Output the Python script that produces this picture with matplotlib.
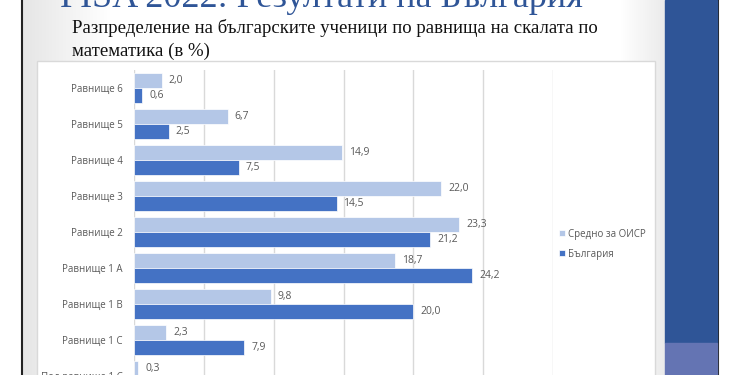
import numpy as np
import matplotlib.pyplot as plt
from matplotlib.patches import Rectangle

# Данни
categories = ['Равнище 6', 'Равнище 5', 'Равнище 4', 'Равнище 3', 'Равнище 2',
              'Равнище 1 А', 'Равнище 1 В', 'Равнище 1 С', 'Под равнище 1 С']
oecd = [2.0, 6.7, 14.9, 22.0, 23.3, 18.7, 9.8, 2.3, 0.3]
bulgaria = [0.6, 2.5, 7.5, 14.5, 21.2, 24.2, 20.0, 7.9, 1.6]
series_names = ['Средно за ОИСР', 'България']

W, H = 750, 375
fig = plt.figure(figsize=(7.5, 3.75), dpi=100)
fig.patch.set_facecolor('white')

# фон на слайда (градиент)
bg = fig.add_axes([0, 0, 1, 1])
bg.axis('off')
xs = np.arange(W)
shade = np.ones(W)
left = (xs >= 23) & (xs < 110)
shade[left] = 0.90 + 0.10 * (xs[left] - 23) / 87
right = (xs >= 620) & (xs < 665)
shade[right] = 1.0 - 0.08 * (xs[right] - 620) / 45
img = np.repeat(shade[None, :, None], 3, axis=2)
bg.imshow(img, extent=[0, W, H, 0], aspect='auto', zorder=0)
bg.set_xlim(0, W)
bg.set_ylim(H, 0)
# рамка на слайда
bg.plot([22, 22], [0, H], color='#222222', lw=1.5, zorder=2)
bg.plot([718, 718], [0, H], color='#222222', lw=1.5, zorder=2)
# синя лента вдясно
bg.add_patch(Rectangle((665, 0), 52, 343, color='#2F5597', zorder=2))
bg.add_patch(Rectangle((665, 343), 52, 40, color='#6474B3', zorder=2))
# бяла област на диаграмата
bg.add_patch(Rectangle((37, 61), 618, 330, facecolor='white',
                       edgecolor='#D9D9D9', lw=1, zorder=2))

# заглавия
fig.text(60 / W, 1 - 7 / H, 'PISA 2022: Резултати на България', fontsize=26,
         family='Liberation Serif', color='#2F5597', va='baseline')
fig.text(72 / W, 1 - 33 / H, 'Разпределение на българските ученици по равнища на скалата по',
         fontsize=13.5, family='Liberation Serif', color='#111111', va='baseline')
fig.text(72 / W, 1 - 56 / H, 'математика (в %)',
         fontsize=13.5, family='Liberation Serif', color='#111111', va='baseline')

# основна диаграма
ax = fig.add_axes([134 / W, 1 - 394 / H, (553 - 134) / W, 324 / H])
ax.set_facecolor('none')
y = np.arange(len(categories))
h = 15 / 36
ax.barh(y - h / 2, oecd, height=h, color='#B4C7E7', edgecolor='white', lw=0.5,
        label=series_names[0], zorder=3)
ax.barh(y + h / 2, bulgaria, height=h, color='#4472C4', edgecolor='white', lw=0.5,
        label=series_names[1], zorder=3)

for i in range(len(categories)):
    ax.annotate(f'{oecd[i]:.1f}'.replace('.', ','), (oecd[i], y[i] - h / 2),
                xytext=(5, 0), textcoords='offset points', va='center',
                fontsize=7.5, family='Open Sans', color='#595959')
    ax.annotate(f'{bulgaria[i]:.1f}'.replace('.', ','), (bulgaria[i], y[i] + h / 2),
                xytext=(5, 0), textcoords='offset points', va='center',
                fontsize=7.5, family='Open Sans', color='#595959')

ax.set_xlim(0, 30)
ax.set_ylim(len(categories) - 0.5, -0.5)
ax.set_xticks(np.arange(0, 31, 5))
ax.set_yticks(y)
ax.set_yticklabels(categories, fontsize=7, family='Open Sans', color='#595959')
ax.tick_params(length=0, pad=8)
ax.tick_params(axis='x', labelbottom=False)
ax.grid(axis='x', color='#D9D9D9', lw=1, zorder=0)
for s in ax.spines.values():
    s.set_visible(False)

# легенда
leg = fig.legend(loc='upper left', bbox_to_anchor=(550 / W, 1 - 220 / H),
                 frameon=False, handlelength=0.6, handleheight=0.6,
                 handletextpad=0.4, labelspacing=0.9,
                 prop={'family': 'Open Sans', 'size': 7})
for t in leg.get_texts():
    t.set_color('#595959')

plt.savefig('out.png', dpi=100)
